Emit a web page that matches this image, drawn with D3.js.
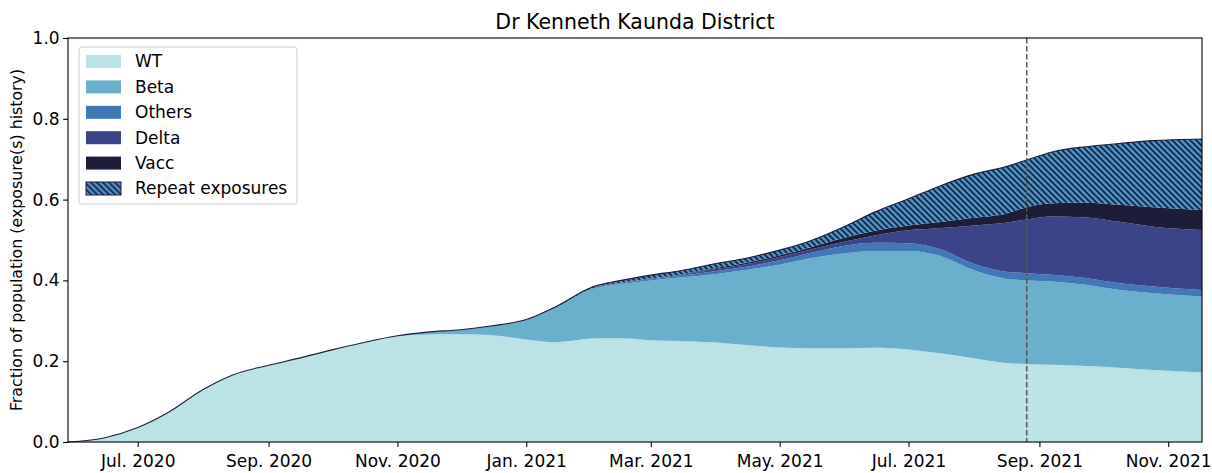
<!DOCTYPE html>
<html>
<head>
<meta charset="utf-8">
<script src="https://cdn.jsdelivr.net/npm/d3@7"></script>
<style>
  body { margin: 0; background: #fff; }
  text { font-family: "DejaVu Sans", sans-serif; }
</style>
</head>
<body>
<script>
// values, layer thickness as fraction of population
const dates = ['2020-05-29', '2020-06-15', '2020-07-01', '2020-07-15', '2020-08-01', '2020-08-15',
  '2020-09-01', '2020-09-15', '2020-10-01', '2020-10-15', '2020-11-01', '2020-11-15',
  '2020-12-01', '2020-12-15', '2021-01-01', '2021-01-15', '2021-02-01', '2021-02-15',
  '2021-03-01', '2021-03-15', '2021-04-01', '2021-04-15', '2021-05-01', '2021-05-15',
  '2021-06-01', '2021-06-15', '2021-07-01', '2021-07-15', '2021-08-01', '2021-08-15',
  '2021-08-26', '2021-09-07', '2021-09-23', '2021-10-09', '2021-10-25', '2021-11-17']

const wt = [0, 0.010, 0.036, 0.072, 0.130, 0.166, 0.190, 0.207, 0.228, 0.245, 0.262, 0.266,
  0.267, 0.265, 0.254, 0.247, 0.256, 0.257, 0.252, 0.250, 0.246, 0.240, 0.234, 0.232,
  0.232, 0.233, 0.229, 0.220, 0.207, 0.196, 0.193, 0.191, 0.188, 0.184, 0.178, 0.172]
const beta = [0, 0, 0, 0, 0, 0, 0, 0, 0, 0, 0.001, 0.006,
  0.011, 0.022, 0.048, 0.086, 0.122, 0.134, 0.148, 0.157, 0.170, 0.186, 0.205, 0.222,
  0.235, 0.240, 0.244, 0.242, 0.218, 0.209, 0.207, 0.206, 0.201, 0.192, 0.190, 0.188]
const others = [0, 0, 0, 0, 0, 0, 0, 0, 0, 0, 0, 0,
  0, 0, 0, 0, 0.001, 0.002, 0.003, 0.004, 0.007, 0.008, 0.011, 0.013,
  0.019, 0.020, 0.019, 0.017, 0.016, 0.017, 0.018, 0.017, 0.017, 0.017, 0.017, 0.016]
const delta = [0, 0, 0, 0, 0, 0, 0, 0, 0, 0, 0, 0,
  0, 0, 0, 0, 0.001, 0.001, 0.002, 0.002, 0.005, 0.006, 0.008, 0.009,
  0.010, 0.018, 0.032, 0.050, 0.095, 0.120, 0.133, 0.144, 0.150, 0.152, 0.148, 0.149]
const vacc = [0, 0, 0, 0, 0, 0, 0, 0, 0, 0, 0, 0,
  0, 0, 0, 0, 0, 0, 0, 0.001, 0.003, 0.003, 0.004, 0.005,
  0.010, 0.012, 0.012, 0.015, 0.019, 0.022, 0.030, 0.033, 0.036, 0.042, 0.048, 0.049]
const repeat = [0, 0, 0, 0, 0, 0, 0, 0, 0, 0, 0, 0,
  0, 0, 0.001, 0.002, 0.003, 0.006, 0.008, 0.010, 0.011, 0.012, 0.013, 0.016,
  0.028, 0.046, 0.066, 0.088, 0.108, 0.116, 0.117, 0.127, 0.139, 0.152, 0.165, 0.176]

const seriesNames = ['WT', 'Beta', 'Others', 'Delta', 'Vacc', 'Repeat exposures']
const seriesValues = [wt, beta, others, delta, vacc, repeat]
const colors = ['#bbe2e4', '#6aafcb', '#4178b8', '#3b4389', '#1d1d3a', '#4b93c5']
const yTicks = [0, 0.2, 0.4, 0.6, 0.8, 1.0]
const xStart = '2020-05-29', xEnd = '2021-11-17'
const markerDate = '2021-08-26'
const title = 'Dr Kenneth Kaunda District'
const yLabel = 'Fraction of population (exposure(s) history)'

const W = 1212, H = 473
const margin = { top: 38, right: 10, bottom: 31, left: 68 }
const parse = d3.utcParse('%Y-%m-%d')

const rows = dates.map((d, i) => {
  const r = { date: parse(d) }
  seriesNames.forEach((n, k) => { r[n] = seriesValues[k][i] })
  return r
})

const x = d3.scaleUtc()
  .domain([parse(xStart), parse(xEnd)])
  .range([margin.left, W - margin.right])
const y = d3.scaleLinear()
  .domain([0, 1])
  .range([H - margin.bottom, margin.top])

const stack = d3.stack().keys(seriesNames)(rows)

const svg = d3.select('body').append('svg')
  .attr('width', W).attr('height', H)

const defs = svg.append('defs')
const pat = defs.append('pattern')
  .attr('id', 'hatch')
  .attr('patternUnits', 'userSpaceOnUse')
  .attr('width', 6).attr('height', 6)
pat.append('rect').attr('width', 6).attr('height', 6).attr('fill', colors[5])
pat.append('path')
  .attr('d', 'M-1,-1 L7,7 M-4,2 L2,8 M2,-4 L8,2')
  .attr('stroke', '#1d1d3a').attr('stroke-width', 1.6)

const area = d3.area()
  .x(d => x(d.data.date))
  .y0(d => y(d[0]))
  .y1(d => y(d[1]))
  .curve(d3.curveMonotoneX)

svg.append('g')
  .selectAll('path')
  .data(stack)
  .join('path')
  .attr('d', area)
  .attr('fill', (d, i) => i === 5 ? 'url(#hatch)' : colors[i])

// dark edge along the top of the repeat exposures layer
svg.append('path')
  .datum(stack[5])
  .attr('d', d3.line().x(d => x(d.data.date)).y(d => y(d[1])).curve(d3.curveMonotoneX))
  .attr('fill', 'none')
  .attr('stroke', '#1d1d3a')
  .attr('stroke-width', 1.1)

// vertical marker
svg.append('line')
  .attr('x1', x(parse(markerDate))).attr('x2', x(parse(markerDate)))
  .attr('y1', margin.top).attr('y2', H - margin.bottom)
  .attr('stroke', '#555').attr('stroke-width', 1.5)
  .attr('stroke-dasharray', '5.5,2.5')

// axes
const xAxis = svg.append('g')
  .attr('transform', `translate(0,${H - margin.bottom})`)
  .call(d3.axisBottom(x)
    .ticks(d3.utcMonth.every(2))
    .tickFormat(d3.utcFormat('%b. %Y'))
    .tickSize(4.9).tickPadding(8))
const yAxis = svg.append('g')
  .attr('transform', `translate(${margin.left},0)`)
  .call(d3.axisLeft(y)
    .tickValues(yTicks)
    .tickFormat(d3.format('.1f'))
    .tickSize(4.9).tickPadding(3.5))

for (const g of [xAxis, yAxis]) {
  g.select('.domain').remove()
  g.selectAll('line').attr('stroke', '#000').attr('stroke-width', 1.1)
  g.selectAll('text').attr('font-size', 17).attr('fill', '#000')
    .style('font-family', '"DejaVu Sans", sans-serif')
}

// frame
svg.append('rect')
  .attr('x', margin.left).attr('y', margin.top)
  .attr('width', W - margin.left - margin.right)
  .attr('height', H - margin.top - margin.bottom)
  .attr('fill', 'none').attr('stroke', '#000').attr('stroke-width', 1.1)

svg.append('text')
  .attr('x', (margin.left + W - margin.right) / 2).attr('y', 29)
  .attr('text-anchor', 'middle').attr('font-size', 20.5)
  .text(title)

svg.append('text')
  .attr('transform', `translate(22,${(margin.top + H - margin.bottom) / 2}) rotate(-90)`)
  .attr('text-anchor', 'middle').attr('font-size', 15.8)
  .text(yLabel)

// legend
const lg = svg.append('g').attr('transform', 'translate(79,47)')
lg.append('rect')
  .attr('width', 218).attr('height', 157).attr('rx', 3)
  .attr('fill', '#fff').attr('fill-opacity', 0.8)
  .attr('stroke', '#ccc').attr('stroke-width', 1)
seriesNames.forEach((n, i) => {
  const row = lg.append('g').attr('transform', `translate(0,${14.5 + i * 25.4})`)
  row.append('rect')
    .attr('x', 7).attr('y', -6.5).attr('width', 35).attr('height', 13)
    .attr('fill', i === 5 ? 'url(#hatch)' : colors[i])
    .attr('stroke', i === 5 ? '#1d1d3a' : 'none').attr('stroke-width', 1)
  row.append('text')
    .attr('x', 56).attr('dy', '0.35em')
    .attr('font-size', 17)
    .text(n)
})
</script>
</body>
</html>
